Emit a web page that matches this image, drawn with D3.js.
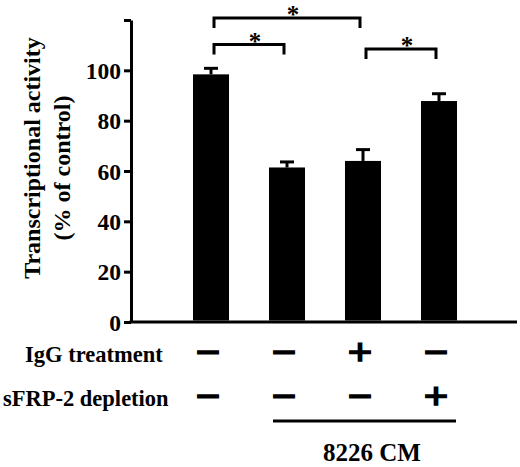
<!DOCTYPE html>
<html lang="en">
  <head>
    <meta charset="UTF-8" />
    <title>Transcriptional activity</title>
    <script src="https://d3js.org/d3.v7.min.js"></script>
    <style>
      body { margin: 0; background: #fff; }
      text { font-family: "Liberation Serif", "Times New Roman", serif; font-weight: bold; fill: #000; }
    </style>
  </head>
  <body>
    <svg width="520" height="467"></svg>

    <script>
      // dados
      const groups = ["control", "CM", "CM+IgG", "CM-sFRP2"];
      const values = [98.4, 61.4, 64.0, 87.8];
      const errors = [2.4, 2.2, 4.5, 2.9];
      const iggRow = ["−", "−", "+", "−"];
      const sfrpRow = ["−", "−", "−", "+"];
      const yTicks = [0, 20, 40, 60, 80, 100, 120];
      const brackets = [
        { from: 0, to: 2, level: 120.8 },
        { from: 0, to: 1, level: 110.3 },
        { from: 2, to: 3, level: 108.5 },
      ];

      const svg = d3.select("svg");
      const axisX = 131;

      const x = d3
        .scaleBand()
        .domain(groups)
        .range([155, 495])
        .paddingInner(0.526)
        .paddingOuter(0.5);

      const y = d3.scaleLinear().domain([0, 120]).range([322, 20]);
      const cx = (i) => x(groups[i]) + x.bandwidth() / 2;

      // eixo y
      const yAxis = d3
        .axisLeft(y)
        .tickValues(yTicks)
        .tickSize(7)
        .tickSizeOuter(0)
        .tickPadding(3)
        .tickFormat((d) => (d === 120 ? "" : d));

      const gy = svg
        .append("g")
        .attr("transform", `translate(${axisX},0)`)
        .call(yAxis)
        .attr("font-family", null)
        .attr("font-size", null);
      gy.selectAll("path, line").attr("stroke", "#000").attr("stroke-width", 3);
      gy.selectAll("text")
        .style("font-family", "'Liberation Serif', serif")
        .style("font-weight", "bold")
        .style("font-size", "23.5px")
        .attr("dy", "0.34em");

      // eixo x (linha de base)
      svg
        .append("line")
        .attr("x1", axisX - 1.5)
        .attr("x2", 517)
        .attr("y1", y(0))
        .attr("y2", y(0))
        .attr("stroke", "#000")
        .attr("stroke-width", 3);

      // barras
      svg
        .selectAll("rect.bar")
        .data(values)
        .enter()
        .append("rect")
        .attr("class", "bar")
        .attr("x", (d, i) => x(groups[i]))
        .attr("width", x.bandwidth())
        .attr("y", (d) => y(d))
        .attr("height", (d) => y(0) - y(d) - 1.5)
        .attr("fill", "#000");

      // barras de erro
      values.forEach((v, i) => {
        const c = cx(i);
        svg
          .append("line")
          .attr("x1", c)
          .attr("x2", c)
          .attr("y1", y(v))
          .attr("y2", y(v + errors[i]))
          .attr("stroke", "#000")
          .attr("stroke-width", 3);
        svg
          .append("line")
          .attr("x1", c - 7)
          .attr("x2", c + 7)
          .attr("y1", y(v + errors[i]))
          .attr("y2", y(v + errors[i]))
          .attr("stroke", "#000")
          .attr("stroke-width", 3);
      });

      // colchetes de significância
      brackets.forEach((b) => {
        const x1 = cx(b.from) + 3;
        const x2 = cx(b.to) - 3;
        const by = y(b.level);
        svg
          .append("path")
          .attr("d", `M${x1},${by + 10}V${by}H${x2}V${by + 10}`)
          .attr("fill", "none")
          .attr("stroke", "#000")
          .attr("stroke-width", 3);
        svg
          .append("text")
          .attr("x", (x1 + x2) / 2 + 6)
          .attr("y", by + 5.2)
          .attr("text-anchor", "middle")
          .style("font-size", "25px")
          .text("*");
      });

      // rótulo do eixo y
      svg
        .append("text")
        .attr("transform", "translate(40,158) rotate(-90)")
        .attr("text-anchor", "middle")
        .style("font-size", "24px")
        .text("Transcriptional activity");
      svg
        .append("text")
        .attr("transform", "translate(70,168) rotate(-90)")
        .attr("text-anchor", "middle")
        .style("font-size", "24px")
        .text("(% of control)");

      // linhas de tratamento
      const rows = [
        { label: "IgG treatment", marks: iggRow, cy: 355, lx: 25 },
        { label: "sFRP-2 depletion", marks: sfrpRow, cy: 399, lx: 3 },
      ];
      rows.forEach((r) => {
        svg
          .append("text")
          .attr("x", r.lx)
          .attr("y", r.cy + 6.5)
          .style("font-size", "22.5px")
          .text(r.label);
        svg
          .selectAll(null)
          .data(r.marks)
          .enter()
          .append("text")
          .attr("x", (d, i) => cx(i) - 3)
          .attr("y", r.cy + 9.5)
          .attr("text-anchor", "middle")
          .attr("textLength", 25)
          .attr("lengthAdjust", "spacingAndGlyphs")
          .attr("stroke", "#000")
          .attr("stroke-width", 1.4)
          .style("font-size", "38px")
          .text((d) => d);
      });

      // 8226 CM
      svg
        .append("line")
        .attr("x1", x(groups[1]) + 4)
        .attr("x2", x(groups[3]) + x.bandwidth() - 1)
        .attr("y1", 421)
        .attr("y2", 421)
        .attr("stroke", "#000")
        .attr("stroke-width", 3);
      svg
        .append("text")
        .attr("x", 372)
        .attr("y", 461)
        .attr("text-anchor", "middle")
        .style("font-size", "25px")
        .text("8226 CM");
    </script>
  </body>
</html>
